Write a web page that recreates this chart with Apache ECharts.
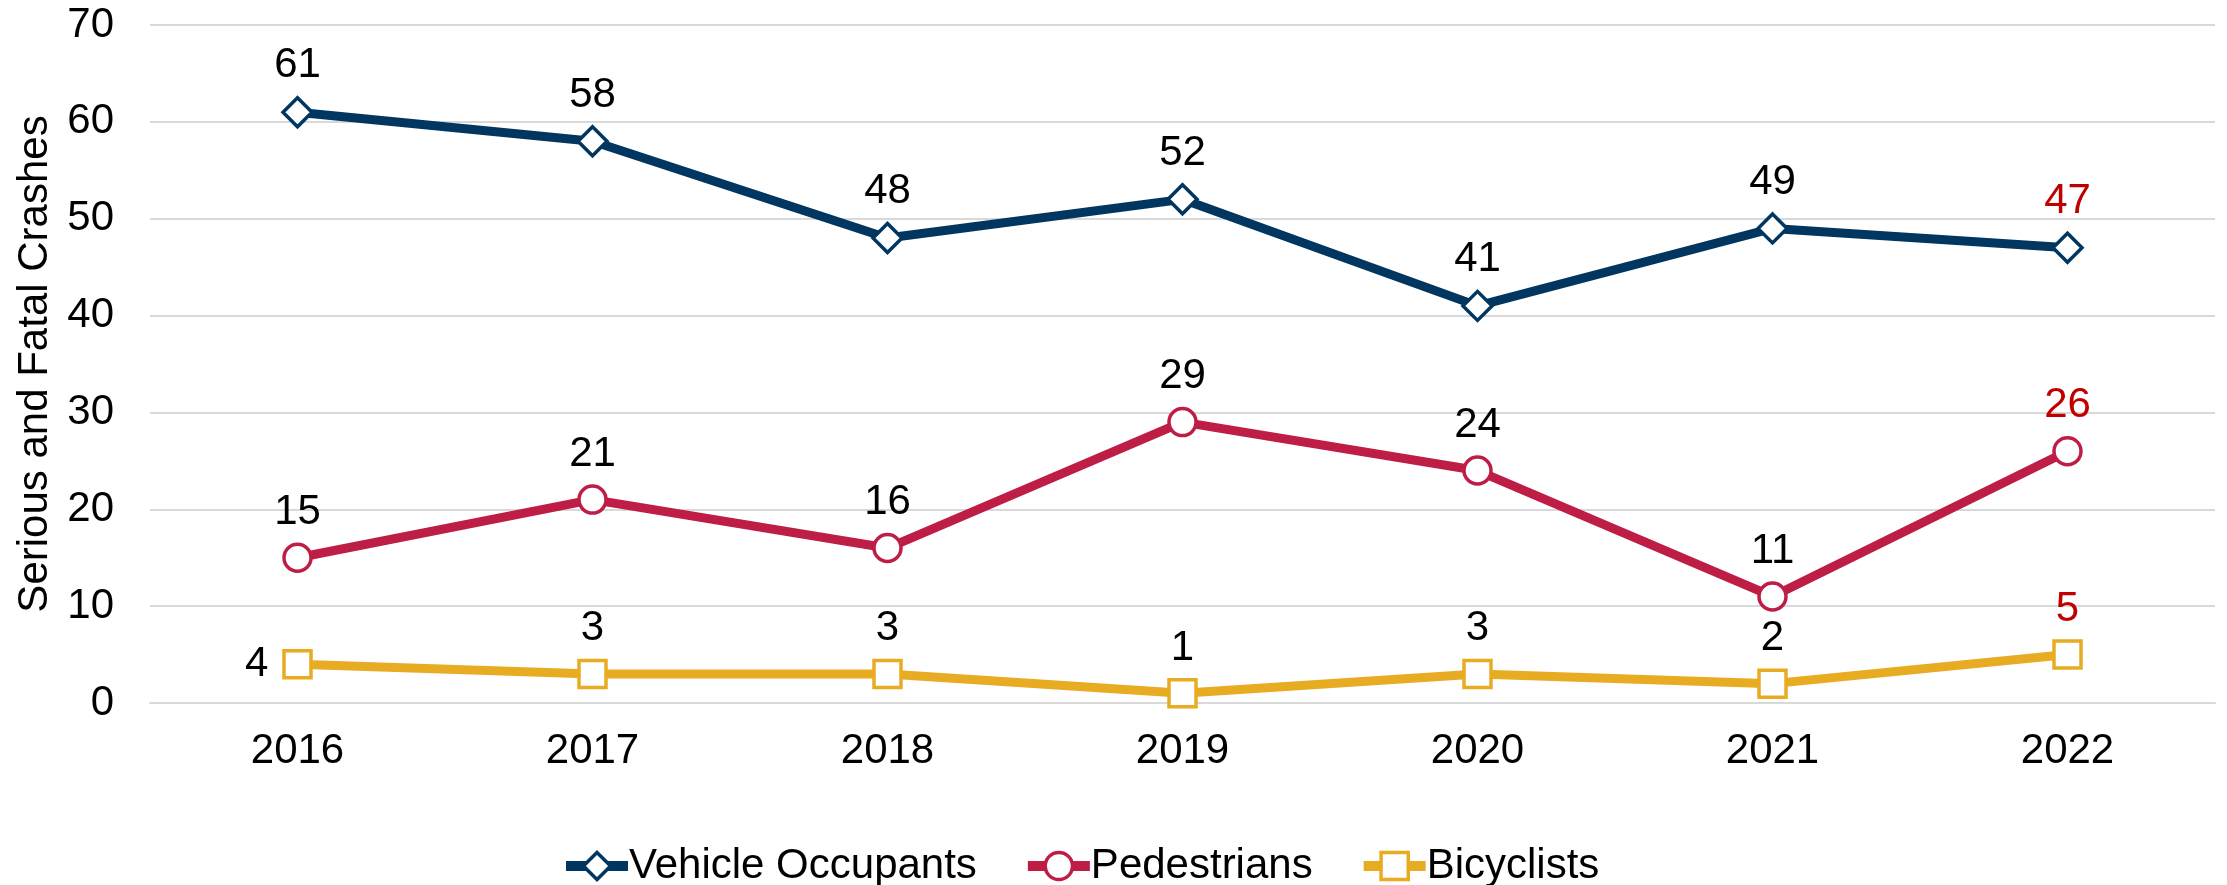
<!DOCTYPE html>
<html>
<head>
<meta charset="utf-8">
<script src="https://cdn.jsdelivr.net/npm/echarts@6/dist/echarts.min.js"></script>
<style>
    html, body { margin: 0; padding: 0; background: #fff; }
    #main { width: 2227px; height: 885px; }
</style>
</head>
<body>
<div id="main"></div>
<script>
// 年份
const years = ['2016', '2017', '2018', '2019', '2020', '2021', '2022'];
// 各类数据
const vehicleOccupants = [61, 58, 48, 52, 41, 49, 47];
const pedestrians = [15, 21, 16, 29, 24, 11, 26];
const bicyclists = [4, 3, 3, 1, 3, 2, 5];
const seriesNames = ['Vehicle Occupants', 'Pedestrians', 'Bicyclists'];
const yTicks = [0, 10, 20, 30, 40, 50, 60, 70];

const FONT = '"Liberation Sans", Arial, sans-serif';

/**
 * 生成带标签的数据点
 */
const buildData = function (values, leftFirst) {
    return values.map(function (v, i) {
        const item = {value: v};
        if (i === values.length - 1) {
            item.label = {color: '#C00000'};
        }
        if (leftFirst && i === 0) {
            item.label = {position: 'left', distance: 14};
        }
        return item;
    });
}

const makeSeries = function (name, values, color, symbol, leftFirst) {
    return {
        name: name,
        type: 'line',
        data: buildData(values, leftFirst),
        symbol: symbol,
        symbolSize: symbol === 'diamond' ? 29 : 27,
        showAllSymbol: true,
        lineStyle: {color: color, width: 9},
        itemStyle: {color: '#fff', borderColor: color, borderWidth: 3.5},
        label: {
            show: true,
            position: 'top',
            distance: 9,
            color: '#000',
            fontSize: 42,
            fontFamily: FONT
        },
        emphasis: {disabled: true},
        animation: false
    };
}

const chart = echarts.init(document.getElementById('main'));
chart.setOption({
    backgroundColor: '#fff',
    grid: {
        left: 150,
        right: 12,
        top: 25,
        bottom: 182,
        containLabel: false
    },
    legend: {
        top: 840,
        left: 556,
        itemWidth: 62,
        itemHeight: 34,
        itemGap: 46,
        data: seriesNames,
        lineStyle: {width: 10},
        itemStyle: {borderWidth: 3.5},
        textStyle: {
            fontSize: 42,
            fontFamily: FONT,
            color: '#000',
            padding: [0, 0, 0, -4]
        }
    },
    xAxis: {
        type: 'category',
        data: years,
        boundaryGap: true,
        axisLine: {show: true, lineStyle: {color: '#d9d9d9', width: 2}},
        axisTick: {show: false},
        axisLabel: {
            margin: 27,
            fontSize: 42,
            fontFamily: FONT,
            color: '#000'
        }
    },
    yAxis: {
        type: 'value',
        min: yTicks[0],
        max: yTicks[yTicks.length - 1],
        interval: 10,
        name: 'Serious and Fatal Crashes',
        nameLocation: 'middle',
        nameGap: 89,
        nameTextStyle: {
            fontSize: 42,
            fontFamily: FONT,
            color: '#000'
        },
        axisLine: {show: false},
        axisTick: {show: false},
        splitLine: {lineStyle: {color: '#d9d9d9', width: 2}},
        axisLabel: {
            margin: 36,
            fontSize: 42,
            fontFamily: FONT,
            color: '#000'
        }
    },
    series: [
        makeSeries(seriesNames[0], vehicleOccupants, '#00365F', 'diamond', false),
        makeSeries(seriesNames[1], pedestrians, '#BE1E45', 'circle', false),
        makeSeries(seriesNames[2], bicyclists, '#E8AC22', 'rect', true)
    ]
});
</script>
</body>
</html>
